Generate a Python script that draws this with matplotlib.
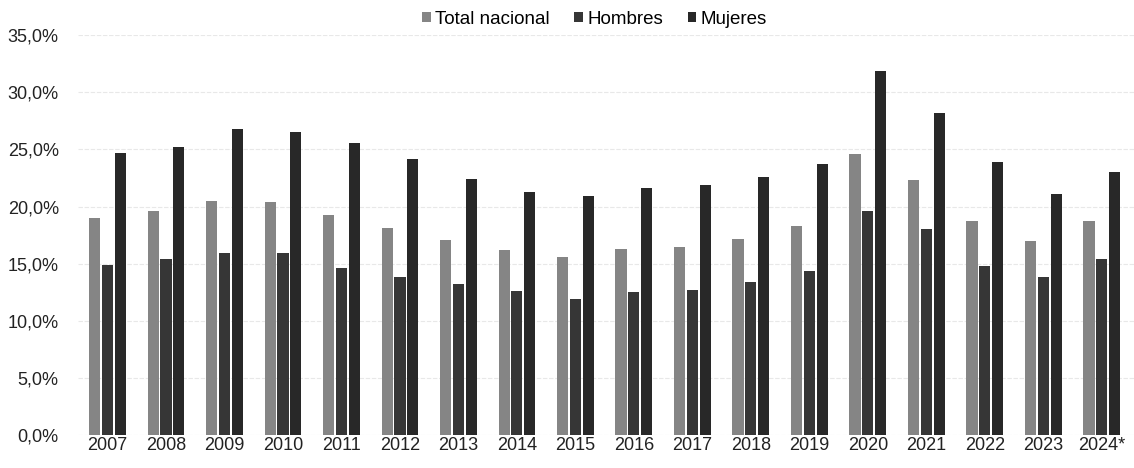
import numpy as np
import matplotlib.pyplot as plt
from matplotlib.ticker import FuncFormatter

years = ["2007", "2008", "2009", "2010", "2011", "2012", "2013", "2014", "2015",
         "2016", "2017", "2018", "2019", "2020", "2021", "2022", "2023", "2024*"]
total_nacional = [19.0, 19.6, 20.5, 20.4, 19.3, 18.1, 17.1, 16.2, 15.6,
                  16.3, 16.5, 17.2, 18.3, 24.6, 22.3, 18.7, 17.0, 18.7]
hombres = [14.9, 15.4, 15.9, 15.9, 14.6, 13.8, 13.2, 12.6, 11.9,
           12.5, 12.7, 13.4, 14.4, 19.6, 18.0, 14.8, 13.8, 15.4]
mujeres = [24.7, 25.2, 26.8, 26.5, 25.6, 24.2, 22.4, 21.3, 20.9,
           21.6, 21.9, 22.6, 23.7, 31.9, 28.2, 23.9, 21.1, 23.0]

plt.rcParams['font.family'] = ['Liberation Sans', 'DejaVu Sans']

fig = plt.figure(figsize=(11.34, 4.68), dpi=100)
ax = fig.add_axes([0.069, 0.07, 0.931, 0.855])

x = np.arange(len(years))
w = 0.19
step = 0.22
ax.bar(x - step, np.array(total_nacional) / 100, w, color="#858585", label="Total nacional", zorder=2)
ax.bar(x, np.array(hombres) / 100, w, color="#363636", label="Hombres", zorder=2)
ax.bar(x + step, np.array(mujeres) / 100, w, color="#282828", label="Mujeres", zorder=2)

ax.set_ylim(0, 0.35)
ax.set_yticks(np.arange(0, 0.351, 0.05))
ax.yaxis.set_major_formatter(FuncFormatter(lambda v, p: f"{v*100:.1f}%".replace(".", ",")))
ax.set_xlim(-0.5, len(years) - 0.45)
ax.set_xticks(x)
ax.set_xticklabels(years)
ax.tick_params(axis="both", length=0, labelsize=13, colors="#222222")
ax.tick_params(axis="x", pad=1)
ax.tick_params(axis="y", pad=14)
ax.grid(axis="y", color="#e8e8e8", linewidth=0.8, linestyle=(0, (4, 1.5)), zorder=0)
for s in ax.spines.values():
    s.set_visible(False)

ax.legend(loc="center", bbox_to_anchor=(0.489, 1.04), ncol=3, frameon=False,
          fontsize=13.5, handlelength=0.45, handleheight=0.45, handletextpad=0.25,
          columnspacing=1.3)

fig.savefig("out.png", dpi=100)
